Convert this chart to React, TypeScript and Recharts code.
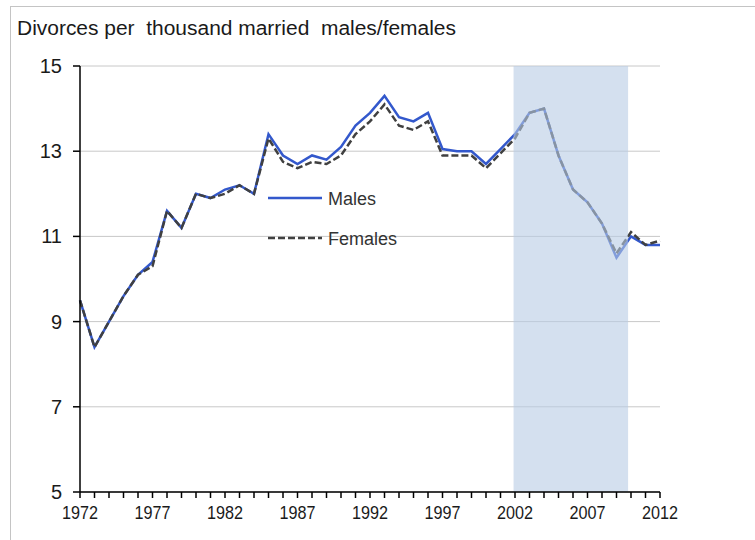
import React from 'react';
import { LineChart, Line, XAxis, YAxis, CartesianGrid, ReferenceArea, Legend } from 'recharts';

const years = [
  1972, 1973, 1974, 1975, 1976, 1977, 1978, 1979, 1980, 1981,
  1982, 1983, 1984, 1985, 1986, 1987, 1988, 1989, 1990, 1991,
  1992, 1993, 1994, 1995, 1996, 1997, 1998, 1999, 2000, 2001,
  2002, 2003, 2004, 2005, 2006, 2007, 2008, 2009, 2010, 2011, 2012,
];
const males = [
  9.5, 8.4, 9.0, 9.6, 10.1, 10.4, 11.6, 11.2, 12.0, 11.9,
  12.1, 12.2, 12.0, 13.4, 12.9, 12.7, 12.9, 12.8, 13.1, 13.6,
  13.9, 14.3, 13.8, 13.7, 13.9, 13.05, 13.0, 13.0, 12.7, 13.05,
  13.4, 13.9, 14.0, 12.9, 12.1, 11.8, 11.3, 10.5, 11.0, 10.8, 10.8,
];
const females = [
  9.5, 8.4, 9.0, 9.6, 10.1, 10.3, 11.6, 11.2, 12.0, 11.9,
  12.0, 12.2, 12.0, 13.3, 12.75, 12.6, 12.75, 12.7, 12.9, 13.4,
  13.7, 14.1, 13.6, 13.5, 13.7, 12.9, 12.9, 12.9, 12.6, 12.95,
  13.3, 13.9, 14.0, 12.9, 12.1, 11.8, 11.3, 10.6, 11.1, 10.8, 10.9,
];
const yTicks = [5, 7, 9, 11, 13, 15];
const xLabelYears = [1972, 1977, 1982, 1987, 1992, 1997, 2002, 2007, 2012];
const shadeRange = [2001.9, 2009.8];
const seriesNames = ['Males', 'Females'];
const titleText = 'Divorces per  thousand married  males/females';

const data = years.map((y, i) => ({ year: y, males: males[i], females: females[i] }));

const FONT = '"Liberation Sans", Arial, sans-serif';

const XTick = (props: any) => {
  const { x, y, payload } = props;
  if (!xLabelYears.includes(payload.value)) return null;
  return (
    <text
      x={x}
      y={y + 19}
      textAnchor="middle"
      fontFamily={FONT}
      fontSize={19}
      fill="#1a1a1a"
      textLength={36}
      lengthAdjust="spacingAndGlyphs"
    >
      {payload.value}
    </text>
  );
};

const YTick = (props: any) => {
  const { x, y, payload } = props;
  return (
    <text x={x - 9} y={y + 7} textAnchor="end" fontFamily={FONT} fontSize={20} fill="#1a1a1a">
      {payload.value}
    </text>
  );
};

const LegendContent = () => (
  <svg width={160} height={70}>
    <line x1={0} y1={13} x2={54} y2={13} stroke="#3358cc" strokeWidth={2.5} />
    <text x={60} y={19.5} fontFamily={FONT} fontSize={18} fill="#333">
      {seriesNames[0]}
    </text>
    <line x1={0} y1={53} x2={54} y2={53} stroke="#404040" strokeWidth={2.5} strokeDasharray="7 3" />
    <text x={60} y={59.5} fontFamily={FONT} fontSize={18} fill="#333">
      {seriesNames[1]}
    </text>
  </svg>
);

export default function App() {
  return (
    <div style={{ position: 'absolute', left: 0, top: 0, width: 755, height: 540, background: '#fff' }}>
      <div
        style={{
          position: 'absolute',
          left: 10,
          top: 6,
          width: 745,
          height: 534,
          borderTop: '1px solid #c4c4c4',
          borderLeft: '1px solid #c4c4c4',
          boxSizing: 'border-box',
        }}
      />
      <svg width={755} height={50} style={{ position: 'absolute', left: 0, top: 0 }}>
        <text
          x={17}
          y={35}
          fontFamily={FONT}
          fontSize={20}
          fill="#1a1a1a"
          textLength={439}
          lengthAdjust="spacingAndGlyphs"
          style={{ whiteSpace: 'pre' }}
        >
          {titleText}
        </text>
      </svg>
      <div style={{ position: 'absolute', left: 0, top: 0 }}>
        <LineChart width={755} height={540} data={data} margin={{ top: 66, right: 95, left: 20, bottom: 18 }}>
          <CartesianGrid vertical={false} stroke="#c8c8c8" strokeWidth={1} />
          <XAxis
            dataKey="year"
            type="number"
            domain={[1972, 2012]}
            ticks={years}
            interval={0}
            height={30}
            tickSize={6}
            axisLine={{ stroke: '#000', strokeWidth: 1.5 }}
            tickLine={{ stroke: '#000', strokeWidth: 1.5 }}
            tick={<XTick />}
          />
          <YAxis
            type="number"
            domain={[5, 15]}
            ticks={yTicks}
            interval={0}
            width={60}
            tickSize={7}
            axisLine={{ stroke: '#000', strokeWidth: 1.5 }}
            tickLine={{ stroke: '#000', strokeWidth: 1.5 }}
            tick={<YTick />}
          />
          <Line
            type="linear"
            dataKey="males"
            name={seriesNames[0]}
            stroke="#3358cc"
            strokeWidth={2.5}
            dot={false}
            isAnimationActive={false}
          />
          <Line
            type="linear"
            dataKey="females"
            name={seriesNames[1]}
            stroke="#404040"
            strokeWidth={2.5}
            strokeDasharray="7 3"
            dot={false}
            isAnimationActive={false}
          />
          <ReferenceArea
            x1={shadeRange[0]}
            x2={shadeRange[1]}
            y1={5}
            y2={15}
            fill="#b8cce4"
            fillOpacity={0.6}
            stroke="none"
            zIndex={450}
          />
          <Legend
            layout="vertical"
            align="center"
            verticalAlign="middle"
            content={<LegendContent />}
            wrapperStyle={{ position: 'absolute', left: 268, top: 185, width: 160, height: 70 }}
          />
        </LineChart>
      </div>
    </div>
  );
}
